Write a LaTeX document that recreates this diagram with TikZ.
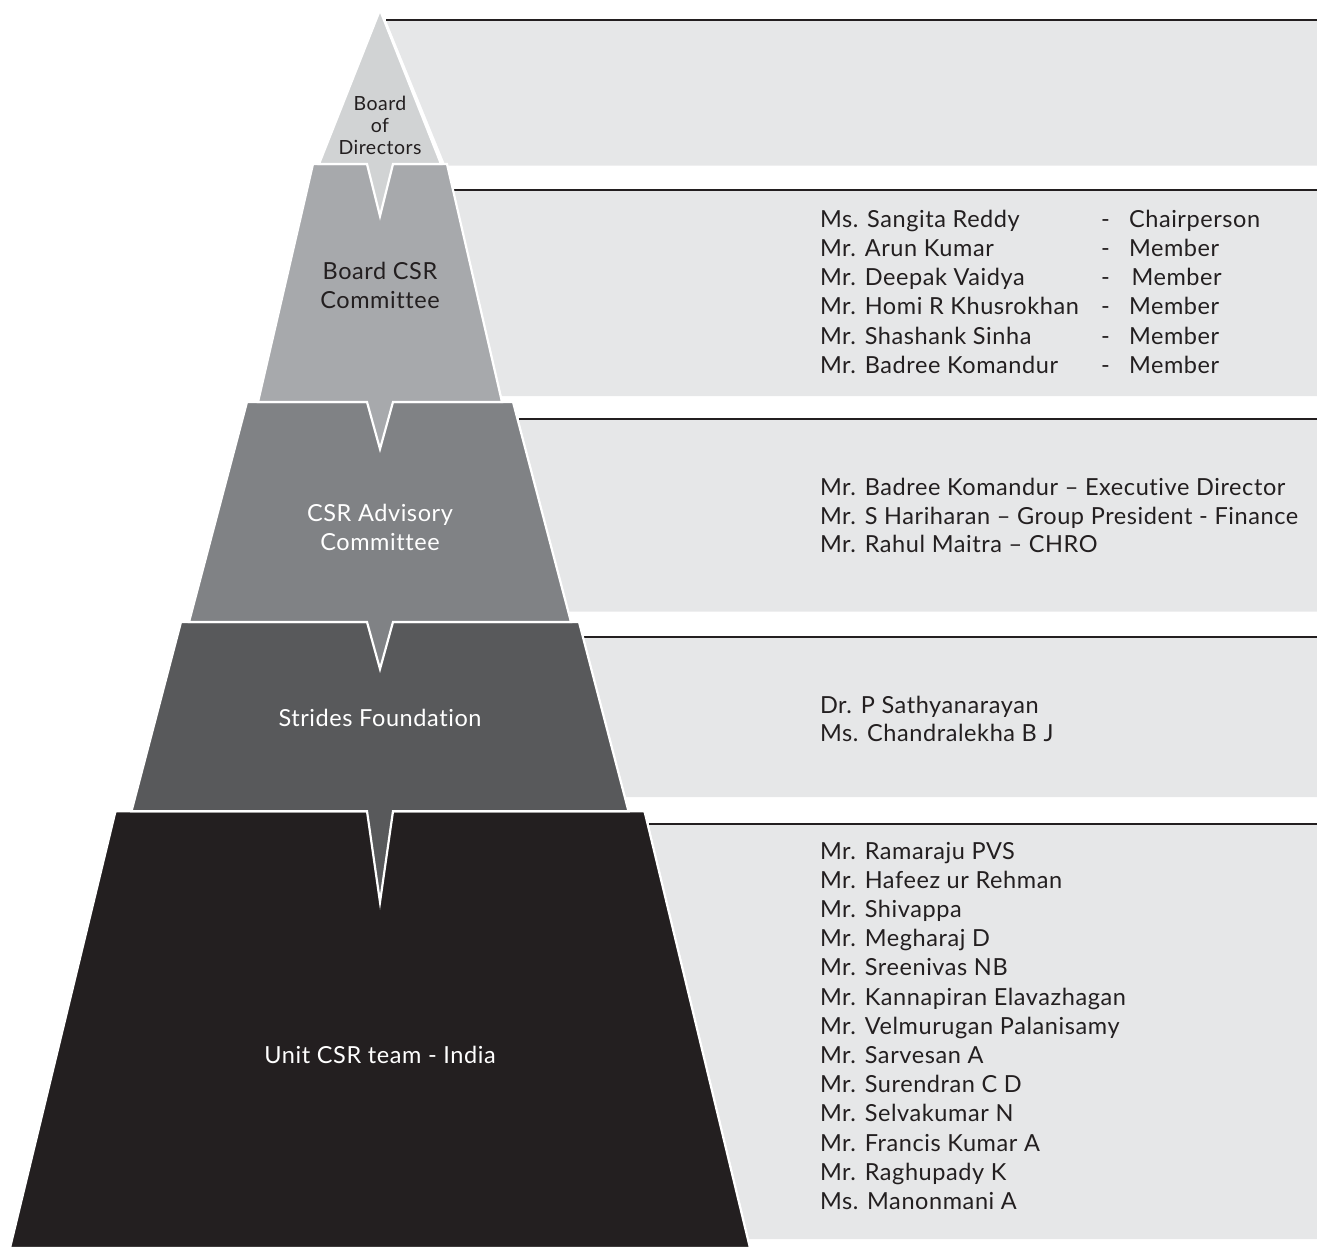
\documentclass[tikz,border=0pt]{standalone}
\usepackage{fontspec}
\setmainfont{Lato}[Ligatures=NoCommon,LetterSpace=2.5]
\definecolor{tA}{HTML}{D1D3D4}
\definecolor{tB}{HTML}{A7A9AC}
\definecolor{tC}{HTML}{808285}
\definecolor{tD}{HTML}{58595B}
\definecolor{tE}{HTML}{231F20}
\definecolor{panelgray}{HTML}{E6E7E8}
\definecolor{ink}{HTML}{231F20}
\begin{document}
\begin{tikzpicture}[x=1pt,y=-1pt,
  tier/.style={draw=white,line width=2.2pt},
  rulebar/.style={draw=ink,line width=2.2pt},
  big/.style={font=\fontsize{23.5}{29}\selectfont},
  small/.style={font=\fontsize{19.5}{22}\selectfont},
  lbl/.style={anchor=base,inner sep=0pt,outer sep=0pt},
  item/.style={anchor=base west,inner sep=0pt,outer sep=0pt,big,text=ink}]

\useasboundingbox (0,0) rectangle (1317,1248);

% ---- panels ----
\fill[panelgray] (386,20) -- (1317,20) -- (1317,165.5) -- (445.5,165.5) -- cycle;
\draw[rulebar] (386,20) -- (1317,20);
\fill[panelgray] (453.8,190) -- (1317,190) -- (1317,396) -- (501.6,396) -- cycle;
\draw[rulebar] (453.8,190) -- (1317,190);
\fill[panelgray] (518.5,419) -- (1317,419) -- (1317,611.7) -- (569.2,611.7) -- cycle;
\draw[rulebar] (518.5,419) -- (1317,419);
\fill[panelgray] (583.8,636.7) -- (1317,636.7) -- (1317,797) -- (625.8,797) -- cycle;
\draw[rulebar] (583.8,636.7) -- (1317,636.7);
\fill[panelgray] (648.7,824.3) -- (1317,824.3) -- (1317,1239) -- (748.9,1239) -- cycle;
\draw[rulebar] (648.7,824.3) -- (1317,824.3);

% ---- pyramid tiers (bottom first) ----
\filldraw[tier,fill=tE] (115.5,811.2) -- (644.5,811.2) -- (750,1248) -- (10,1248) -- cycle;
\filldraw[tier,fill=tD] (181,622) -- (579,622) -- (628.5,811.2) -- (393,811.2) -- (380,902) -- (367,811.2) -- (131.5,811.2) -- cycle;
\filldraw[tier,fill=tC] (247,402) -- (513,402) -- (571,622) -- (393,622) -- (380,669) -- (367,622) -- (189,622) -- cycle;
\filldraw[tier,fill=tB] (313,164) -- (447,164) -- (502,402) -- (393,402) -- (380,449) -- (367,402) -- (258,402) -- cycle;
\filldraw[tier,fill=tA] (380,10) -- (441,164) -- (393,164) -- (380,216) -- (367,164) -- (319,164) -- cycle;

% ---- tier labels ----
\node[lbl,small,text=ink] (bod1) at (380,110.7) {Board};
\node[lbl,small,text=ink] (bod2) at (380,132.7) {of};
\node[lbl,small,text=ink] (bod3) at (380,154) {Directors};
\node[lbl,big,text=ink] (bcsr1) at (380,279.3) {Board CSR};
\node[lbl,big,text=ink] (bcsr2) at (380,308.3) {Committee};
\node[lbl,big,text=white] (adv1) at (380,521.7) {CSR Advisory};
\node[lbl,big,text=white] (adv2) at (380,550.7) {Committee};
\node[lbl,big,text=white] (sf) at (380,726.7) {Strides Foundation};
\node[lbl,big,text=white] (unit) at (380,1063) {Unit CSR team - India};

% ---- panel 2 ----
\node[item] (n1) at (820,227.3) {Ms. Sangita Reddy};
\node[item] (n2) at (820,256.5) {Mr. Arun Kumar};
\node[item] (n3) at (820,285.7) {Mr. Deepak Vaidya};
\node[item] (n4) at (820,314.9) {Mr. Homi R Khusrokhan};
\node[item] (n5) at (820,344.1) {Mr. Shashank Sinha};
\node[item] (n6) at (820,373.3) {Mr. Badree Komandur};
\foreach \yy [count=\i] in {227.3,256.5,285.7,314.9,344.1,373.3}
  \node[item] (d\i) at (1101,\yy) {-};
\node[item] (r1) at (1129,227.3) {Chairperson};
\node[item] (r2) at (1129,256.5) {Member};
\node[item] (r3) at (1131.5,285.7) {Member};
\node[item] (r4) at (1129,314.9) {Member};
\node[item] (r5) at (1129,344.1) {Member};
\node[item] (r6) at (1129,373.3) {Member};

% ---- panel 3 ----
\node[item] (a1) at (820,495.7) {Mr. Badree Komandur – Executive Director};
\node[item] (a2) at (820,524.2) {Mr. S Hariharan – Group President - Finance};
\node[item] (a3) at (820,552.7) {Mr. Rahul Maitra – CHRO};

% ---- panel 4 ----
\node[item] (f1) at (820,713.3) {Dr. P Sathyanarayan};
\node[item] (f2) at (820,741.7) {Ms. Chandralekha B J};

% ---- panel 5 ----
\foreach \t [count=\i from 0] in {Mr. Ramaraju PVS,Mr. Hafeez ur Rehman,Mr. Shivappa,Mr. Megharaj D,Mr. Sreenivas NB,Mr. Kannapiran Elavazhagan,Mr. Velmurugan Palanisamy,Mr. Sarvesan A,Mr. Surendran C D,Mr. Selvakumar N,Mr. Francis Kumar A,Mr. Raghupady K,Ms. Manonmani A}
  \node[item] (u\i) at (820,{859.1+29.2*\i}) {\t};
\end{tikzpicture}
\end{document}
